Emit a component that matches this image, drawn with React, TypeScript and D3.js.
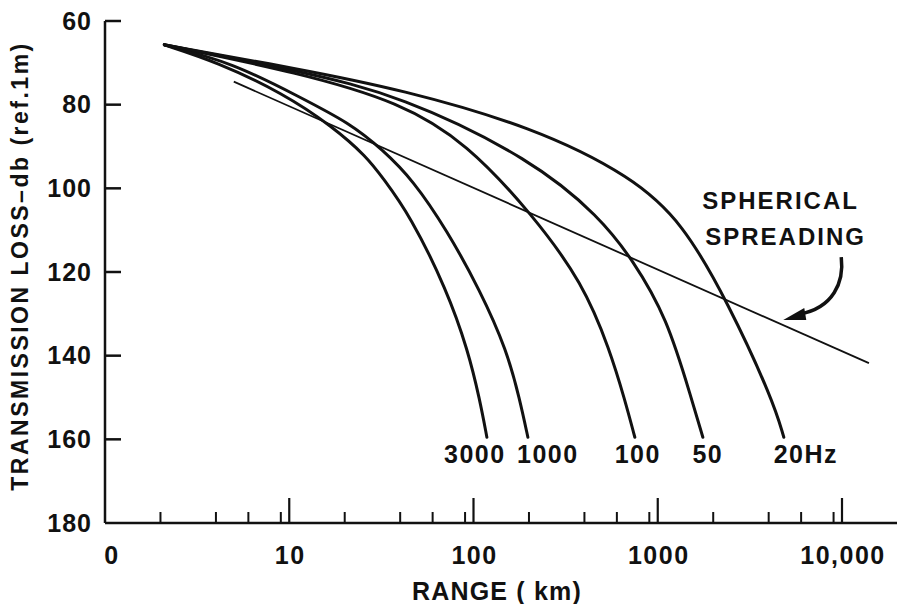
import React from "react";
import * as d3 from "d3";

const W = 897;
const H = 604;
const FONT = "'Liberation Sans', Arial, Helvetica, sans-serif";

// range (km), transmission loss (dB)
const hz3000 = [[2.1, 65.7], [4.05, 69.8], [9.2, 77.2], [17.3, 85.3], [26.4, 92.5], [32.2, 97.5], [45.2, 106.4], [71.7, 124.3], [93.3, 138.7], [108.3, 150.6], [118.2, 159.5]];
const hz1000 = [[2.1, 65.7], [4.95, 70.0], [11.4, 78.2], [21.3, 84.4], [32.2, 90.8], [46.9, 98.0], [71.7, 110.0], [108.3, 124.3], [151.8, 138.7], [178.5, 150.6], [197.3, 159.5]];
const hz100 = [[2.1, 65.7], [11.4, 72.4], [39.9, 79.4], [92.1, 89.2], [210, 106.4], [392, 122.6], [550, 138.7], [663, 150.6], [751, 159.5]];
const hz50 = [[2.1, 65.7], [11.4, 72.0], [39.9, 77.7], [210, 93.2], [485, 106.9], [732, 117.1], [1120, 130.8], [1531, 150.6], [1757, 159.5]];
const hz20 = [[2.1, 65.7], [11.4, 71.5], [39.9, 76.3], [210, 85.3], [732, 97.3], [1368, 108.3], [2400, 127.2], [4215, 150.6], [4833, 159.5]];
const spherical = [[5, 74.5], [14000, 141.8]];

const curveLabels = ["3000", "1000", "100", "50", "20Hz"];
const labelShift = [-12, 20, 3, 5, 22];
const series = [hz3000, hz1000, hz100, hz50, hz20];

const yTicks = [60, 80, 100, 120, 140, 160, 180];
const xMajor = [10, 100, 1000, 10000];
const xLabels = [[1, "0"], [10, "10"], [100, "100"], [1000, "1000"], [10000, "10,000"]];
const minorSteps = [2, 4, 6, 9];
const decades = [1, 10, 100, 1000];

export default function App() {
  const x = d3.scaleLog().domain([1, 10000]).range([105, 842]);
  const y = d3.scaleLinear().domain([60, 180]).range([21, 523]);

  const line = d3
    .line<number[]>()
    .x(d => x(d[0]))
    .y(d => y(d[1]))
    .curve(d3.curveBasis);

  const minors = decades.flatMap(dec => minorSteps.map(m => m * dec));

  // arrow tip sits just above the spherical spreading line
  const tipX = x(4800);
  const tipY = y(131.5);

  const txt = { fontFamily: FONT, fontWeight: 700, fill: "#111" };

  return (
    <div style={{ position: "absolute", left: 0, top: 0 }}>
      <svg width={W} height={H} style={{ display: "block", background: "#fff" }}>
        {/* axes */}
        <line x1={x(1)} y1={y(60)} x2={x(1)} y2={y(180)} stroke="#111" strokeWidth={2.5} />
        <line x1={x(1)} y1={y(180)} x2={W} y2={y(180)} stroke="#111" strokeWidth={2.5} />

        {yTicks.slice(0, -1).map(t => (
          <line key={t} x1={x(1)} x2={x(1) + 16} y1={y(t)} y2={y(t)} stroke="#111" strokeWidth={2.5} />
        ))}
        {yTicks.map(t => (
          <text key={t} x={92} y={y(t)} dy="0.35em" textAnchor="end" fontSize={25} letterSpacing={1} {...txt}>
            {t}
          </text>
        ))}

        {xMajor.map(t => (
          <line key={t} x1={x(t)} x2={x(t)} y1={y(180)} y2={y(180) - 25} stroke="#111" strokeWidth={2.2} />
        ))}
        {minors.map(t => (
          <line key={t} x1={x(t)} x2={x(t)} y1={y(180)} y2={y(180) - 11} stroke="#111" strokeWidth={2} />
        ))}
        {xLabels.map(([v, s], i) => (
          <text key={s as string} x={x(v as number) + (i === 0 ? 7 : 1)} y={564} textAnchor="middle" fontSize={25} letterSpacing={1.5} {...txt}>
            {s}
          </text>
        ))}

        <text x={497} y={600} textAnchor="middle" fontSize={25} letterSpacing={1.2} {...txt}>
          RANGE ( km)
        </text>
        <text
          transform={`translate(28, 266) rotate(-90)`}
          textAnchor="middle"
          fontSize={23}
          letterSpacing={2.5}
          {...txt}
        >
          TRANSMISSION LOSS–db (ref.1m)
        </text>

        {/* spherical spreading */}
        <path d={line(spherical) || ""} fill="none" stroke="#111" strokeWidth={1.8} />

        {/* frequency curves */}
        {series.map((s, i) => (
          <path key={i} d={line(s) || ""} fill="none" stroke="#111" strokeWidth={3} strokeLinecap="round" />
        ))}
        {series.map((s, i) => {
          const last = s[s.length - 1];
          return (
            <text key={i} x={x(last[0]) + labelShift[i]} y={y(last[1]) + 26} textAnchor="middle" fontSize={25} letterSpacing={1.5} {...txt}>
              {curveLabels[i]}
            </text>
          );
        })}

        {/* annotation */}
        <text x={tipX - 81} y={tipY - 111} fontSize={24} letterSpacing={2} {...txt}>SPHERICAL</text>
        <text x={tipX - 78} y={tipY - 75} fontSize={24} letterSpacing={2} {...txt}>SPREADING</text>
        <path
          d={`M${tipX + 58},${tipY - 63} C${tipX + 61},${tipY - 38} ${tipX + 50},${tipY - 12} ${tipX + 16},${tipY - 6}`}
          fill="none"
          stroke="#111"
          strokeWidth={3.5}
        />
        <path
          d={`M${tipX},${tipY} L${tipX + 21},${tipY - 12} L${tipX + 23},${tipY} Z`}
          fill="#111"
        />
      </svg>
    </div>
  );
}
